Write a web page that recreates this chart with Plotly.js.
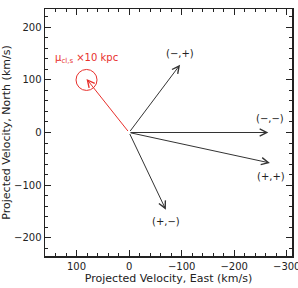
<!DOCTYPE html>
<html>
<head>
<meta charset="utf-8">
<script src="https://cdn.plot.ly/plotly-3.0.1.min.js"></script>
<style>html,body{margin:0;padding:0;background:#fff;}#chart{width:298px;height:288px;}</style>
</head>
<body>
<div id="chart"></div>
<script>
// Vector labels, tips (km/s) and label positions
var vecLabels = ["(−,+)", "(−,−)", "(+,+)", "(+,−)"];
var vecEast = [-97, -265, -268, -70];
var vecNorth = [129, 0, -58, -147];
var labelEast = [-97, -268, -270, -70];
var labelNorth = [150, 26, -84, -170];

// Proper motion vector (red)
var pmEast = [81];
var pmNorth = [102];
var pmCircleEast = [81];
var pmCircleNorth = [100];
var pmLabel = "μ<sub>cl,s</sub> ×10 kpc";
var pmLabelEast = [81];
var pmLabelNorth = [141];

var xTickVals = [100, 0, -100, -200, -300];
var yTickVals = [200, 100, 0, -100, -200];

var font = {family: "DejaVu Sans, sans-serif", size: 10, color: "#222"};
var titleFont = {family: "DejaVu Sans, sans-serif", size: 11, color: "#222"};
var red = "#e8302c";

var annotations = [];
for (var i = 0; i < vecLabels.length; i++) {
  annotations.push({
    x: vecEast[i], y: vecNorth[i], ax: 0, ay: 0, axref: "x", ayref: "y",
    xref: "x", yref: "y", text: "", showarrow: true,
    arrowhead: 5, arrowsize: 1.4, arrowwidth: 1, arrowcolor: "#333", standoff: 0
  });
  annotations.push({
    x: labelEast[i], y: labelNorth[i], xref: "x", yref: "y",
    text: vecLabels[i], showarrow: false, font: font
  });
}
annotations.push({
  x: pmEast[0], y: pmNorth[0], ax: 0, ay: 0, axref: "x", ayref: "y",
  xref: "x", yref: "y", text: "", showarrow: true,
  arrowhead: 5, arrowsize: 1.4, arrowwidth: 1, arrowcolor: red, standoff: 0
});
annotations.push({
  x: pmLabelEast[0], y: pmLabelNorth[0], xref: "x", yref: "y",
  text: pmLabel, showarrow: false, font: {family: font.family, size: 10, color: red}
});

var traces = [{
  x: pmCircleEast, y: pmCircleNorth, type: "scatter", mode: "markers",
  marker: {symbol: "circle-open", size: 21, color: red, line: {width: 1, color: red}},
  hoverinfo: "skip", showlegend: false
}];

var axisCommon = {
  showgrid: false, zeroline: false, showline: true, linecolor: "#222", linewidth: 1.5,
  mirror: "ticks", ticks: "inside", ticklen: 6, tickwidth: 1, tickcolor: "#222",
  tickfont: font, ticklabeloverflow: "allow",
  minor: {dtick: 20, ticks: "inside", ticklen: 3, tickwidth: 1, tickcolor: "#222"}
};

var layout = {
  width: 298, height: 288,
  margin: {l: 45, r: 6, t: 9, b: 32},
  paper_bgcolor: "#fff", plot_bgcolor: "#fff",
  showlegend: false,
  xaxis: Object.assign({}, axisCommon, {
    range: [160, -310], tickvals: xTickVals, ticktext: xTickVals.map(function(v){return v < 0 ? "−" + (-v) : String(v);}),
    title: {text: "Projected Velocity, East (km/s)", font: titleFont, standoff: 4}
  }),
  yaxis: Object.assign({}, axisCommon, {
    range: [-235, 235], tickvals: yTickVals, ticktext: yTickVals.map(function(v){return v < 0 ? "−" + (-v) : String(v);}),
    title: {text: "Projected Velocity, North (km/s)", font: titleFont, standoff: 3}
  }),
  annotations: annotations
};

Plotly.newPlot("chart", traces, layout, {displayModeBar: false, staticPlot: true});
</script>
</body>
</html>
